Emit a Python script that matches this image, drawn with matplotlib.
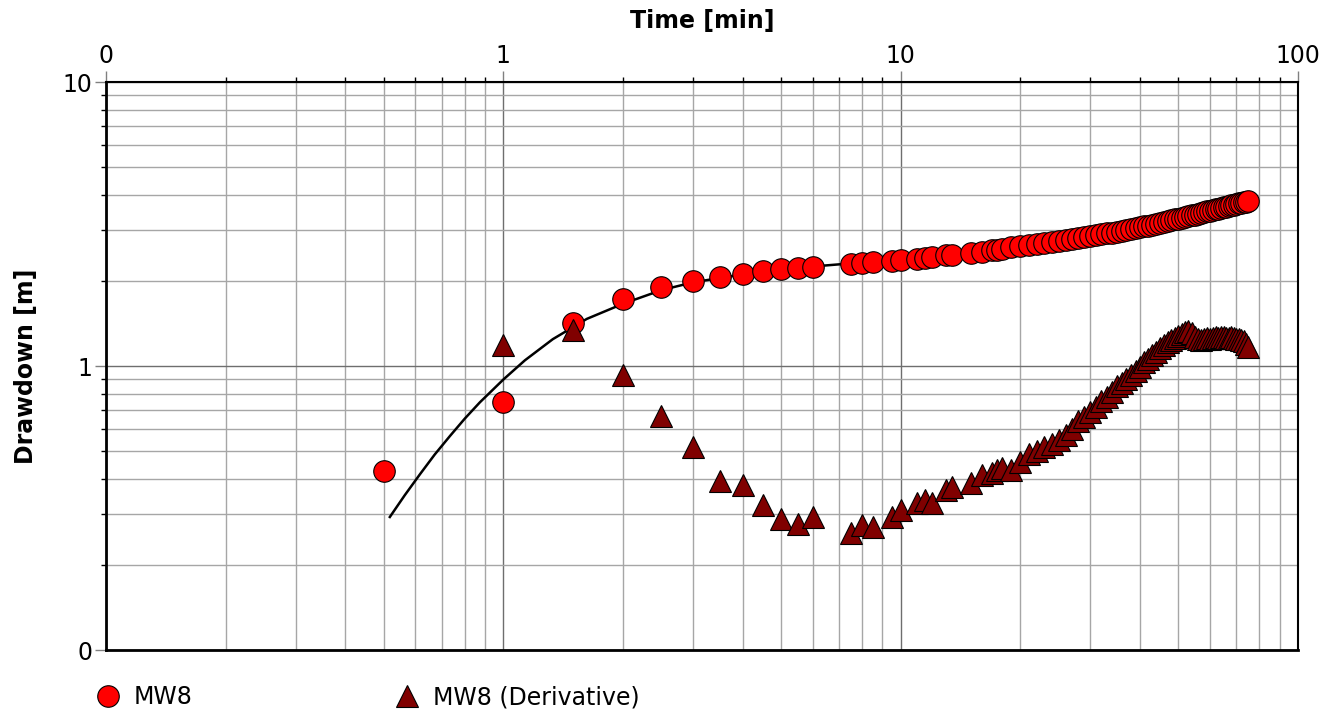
import matplotlib
matplotlib.use("Agg")
import matplotlib.pyplot as plt
from matplotlib.ticker import LogLocator, FuncFormatter, NullFormatter

# time [min]
t = [0.5, 1, 1.5, 2, 2.5, 3, 3.5, 4, 4.5, 5, 5.5, 6, 7.5, 8, 8.5, 9.5, 10,
     11, 11.5, 12, 13, 13.5, 15, 16, 17, 17.5, 18, 19, 20, 21, 22, 23, 24, 25,
     26, 27, 28, 29, 30, 31, 32, 33, 34, 35, 36, 37, 38, 39, 40, 41, 42, 43,
     44, 45, 46, 47, 48, 49, 50, 51, 52, 53, 54, 55, 56, 57, 58, 59, 60, 61,
     62, 63, 64, 65, 66, 67, 68, 69, 70, 71, 72, 73, 74, 75]

# drawdown [m]
s = [0.427, 0.747, 1.42, 1.72, 1.90, 1.99, 2.06, 2.11, 2.16, 2.19, 2.21, 2.23,
     2.29, 2.30, 2.32, 2.35, 2.36, 2.39, 2.41, 2.42, 2.45, 2.46, 2.50, 2.53,
     2.56, 2.57, 2.59, 2.62, 2.65, 2.67, 2.69, 2.71, 2.73, 2.75, 2.77, 2.79,
     2.82, 2.84, 2.87, 2.89, 2.91, 2.93, 2.95, 2.97, 2.99, 3.01, 3.03, 3.05,
     3.08, 3.10, 3.12, 3.14, 3.17, 3.19, 3.21, 3.23, 3.26, 3.28, 3.30, 3.32,
     3.35, 3.37, 3.39, 3.41, 3.43, 3.45, 3.48, 3.50, 3.52, 3.54, 3.56, 3.58,
     3.60, 3.62, 3.64, 3.66, 3.68, 3.70, 3.72, 3.74, 3.76, 3.77, 3.79, 3.81]

# derivative (starts at t = 1)
t_d = t[1:]
ds = [1.19, 1.34, 0.93, 0.667, 0.52, 0.394, 0.38, 0.324, 0.289, 0.277, 0.294,
      0.258, 0.275, 0.271, 0.294, 0.311, 0.330, 0.338, 0.330, 0.366, 0.375,
      0.387, 0.413, 0.42, 0.430, 0.437, 0.43, 0.46, 0.49, 0.50, 0.52, 0.53,
      0.55, 0.57, 0.60, 0.64, 0.66, 0.69, 0.72, 0.75, 0.78, 0.81, 0.85, 0.87,
      0.90, 0.93, 0.96, 0.99, 1.03, 1.06, 1.09, 1.12, 1.16, 1.19, 1.21, 1.23,
      1.25, 1.28, 1.30, 1.32, 1.33, 1.31, 1.27, 1.24, 1.23, 1.24, 1.25, 1.24,
      1.25, 1.26, 1.25, 1.26, 1.26, 1.25, 1.25, 1.26, 1.25, 1.24, 1.24, 1.23,
      1.22, 1.20, 1.17]

# fitted curve
t_fit = [0.518, 0.565, 0.617, 0.672, 0.734, 0.800, 0.873, 1.0, 1.133, 1.332,
         1.622, 2.0, 2.5, 3, 3.5, 4, 5, 6, 7, 8, 10, 15, 20, 30, 40, 50, 60,
         75]
s_fit = [0.294, 0.351, 0.416, 0.488, 0.567, 0.653, 0.745, 0.896, 1.047,
         1.243, 1.465, 1.656, 1.85, 1.97, 2.04, 2.10, 2.18, 2.24, 2.28, 2.31,
         2.36, 2.50, 2.65, 2.87, 3.08, 3.30, 3.52, 3.81]

FS = 17
plt.rcParams['font.family'] = ['DejaVu Sans']

fig = plt.figure(figsize=(13.42, 7.13), dpi=100)
ax = fig.add_axes([106 / 1342, 1 - 650 / 713, 1192 / 1342, 568 / 713])

ax.plot(t_fit, s_fit, color='black', lw=1.8, zorder=2)
h1, = ax.plot(t, s, 'o', ms=15.5, mfc='#ff0000', mec='black', mew=0.8,
              ls='none', zorder=3, label='MW8')
h2, = ax.plot(t_d, ds, '^', ms=15.5, mfc='#800000', mec='black', mew=0.8,
              ls='none', zorder=4, label='MW8 (Derivative)')

ax.set_xscale('log')
ax.set_yscale('log')
ax.set_xlim(0.1, 100)
ax.set_ylim(0.1, 10)

for axis in (ax.xaxis, ax.yaxis):
    axis.set_major_locator(LogLocator(base=10, numticks=10))
    axis.set_minor_locator(LogLocator(base=10, subs=range(2, 10), numticks=10))
    axis.set_major_formatter(FuncFormatter(lambda v, p: f"{v:.0f}"))
    axis.set_minor_formatter(NullFormatter())

ax.grid(True, which='minor', color='#a6a6a6', lw=1.0, zorder=0)
ax.grid(True, which='major', color='#6e6e6e', lw=1.0, zorder=0)
ax.set_axisbelow(True)

ax.xaxis.tick_top()
ax.tick_params(axis='both', which='major', direction='out', length=8,
               color='#808080', width=1.0, labelsize=FS, pad=2)
ax.tick_params(axis='both', which='minor', direction='out', length=3.6,
               color='black', width=1.0)
ax.tick_params(axis='x', which='both', top=True, bottom=False)
ax.tick_params(axis='y', which='both', left=True, right=False)

ax.spines['left'].set_linewidth(2)
ax.spines['bottom'].set_linewidth(2)
ax.spines['top'].set_linewidth(1.5)
ax.spines['right'].set_linewidth(1.5)
for sp in ax.spines.values():
    sp.set_color('black')

ax.set_xlabel('Time [min]', fontsize=FS, fontweight='bold')
ax.xaxis.set_label_position('top')
ax.xaxis.set_label_coords(0.5, (650 - 28) / 568)
ax.set_ylabel('Drawdown [m]', fontsize=FS, fontweight='bold')
ax.yaxis.set_label_coords((38 - 106) / 1192, 0.5)

fig.legend(handles=[h1, h2], loc='center left',
           bbox_to_anchor=(96 / 1342, 1 - 697 / 713), ncol=2, frameon=False,
           fontsize=FS, handlelength=1, handletextpad=0.6, columnspacing=8.56,
           borderpad=0, borderaxespad=0, markerscale=1)

fig.savefig('out.png', dpi=100)
